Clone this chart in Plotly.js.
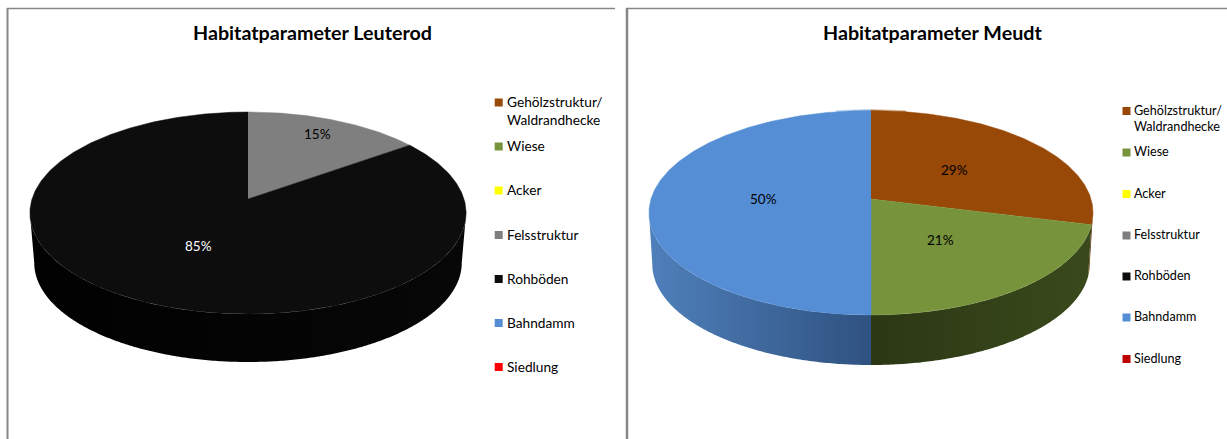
<!DOCTYPE html>
<html>
<head>
<meta charset="utf-8">
<script src="https://cdn.plot.ly/plotly-3.0.1.min.js"></script>
<style>html,body{margin:0;padding:0;background:#fff;overflow:hidden}#chart{width:1227px;height:439px}</style>
</head>
<body>
<div id="chart"></div>
<script>
// ---- data ----
const categories = ["Gehölzstruktur/\nWaldrandhecke", "Wiese", "Acker", "Felsstruktur", "Rohböden", "Bahndamm", "Siedlung"];
const leuterodValues = [0, 0, 0, 15, 85, 0, 0];
const meudtValues = [29, 21, 0, 0, 0, 50, 0];
const leuterodTitle = "Habitatparameter Leuterod";
const meudtTitle = "Habitatparameter Meudt";
const leuterodColors = ["#984807", "#77933C", "#FFFF00", "#7F7F7F", "#0D0D0D", "#558ED5", "#FF0000"];
const meudtColors = ["#984807", "#77933C", "#FFFF00", "#7F7F7F", "#0D0D0D", "#558ED5", "#C00000"];

// ---- layout and style (page pixels, used as axis units) ----
const FONT = "Lato, 'Open Sans', sans-serif";
const leuterodGeom = {cx: 248, apexY: 199, topY: 112, botY: 314, halfW: 216, baseY: 362, shrink: 0.98,
  titleX: 312, legendMarkerX: 498.7, legendTextX: 505, legendFont: 13.7, legendY: [102.5, 146.5, 190.5, 235, 279, 323, 367], lineGap: 18,
  labelPos: {3: [317, 134], 4: [198, 246]}, labelColor: {4: "#ffffff"},
  shade: {4: ["#070707", "#010101"]}};
const meudtGeom = {cx: 871, apexY: 199, topY: 110.5, botY: 315, halfW: 220, baseY: 365, shrink: 0.985,
  titleX: 932, legendMarkerX: 1126.5, legendTextX: 1132, legendFont: 12.6, legendY: [111, 152.5, 194, 235.5, 276.5, 317.5, 359], lineGap: 16,
  labelPos: {0: [954, 170], 1: [940.5, 240], 5: [763, 199]}, labelColor: {},
  shade: {0: ["#6a3205", "#6a3205"], 1: ["#3a4a1c", "#2c3714"], 5: ["#2f5280", "#4f80bb"]},
  rim: true};

function projector(g) {
  // perspective view of a circular disc
  const k = (g.botY + g.topY - 2 * g.apexY) / (g.botY - g.topY);
  const a = g.topY * (1 + k) - g.apexY;
  const midY = (g.apexY - a * k) / (1 - k * k);
  return {
    top: (th, r = 1) => {
      const u = r * Math.sin(th), v = r * Math.cos(th), w = 1 + k * v;
      return [g.cx + g.halfW * u / w, (g.apexY + a * v) / w];
    },
    base: function (th) {
      const p = this.top(th);
      const baseMid = g.baseY - g.shrink * (g.botY - midY);
      return [g.cx + g.shrink * (p[0] - g.cx), baseMid + g.shrink * (p[1] - midY)];
    },
    silhouette: Math.PI - Math.acos(k)
  };
}

function arc(fn, from, to) {
  const n = Math.max(2, Math.ceil(Math.abs(to - from) / 0.01));
  const pts = [];
  for (let i = 0; i <= n; i++) pts.push(fn(from + (to - from) * i / n));
  return pts;
}

function addPie(traces, annotations, values, colors, title, g) {
  const P = projector(g);
  const total = values.reduce((s, v) => s + v, 0);
  const TAU = 2 * Math.PI;
  const sil = P.silhouette;
  // sides first
  let acc = 0;
  values.forEach((v, i) => {
    const a0 = acc / total * TAU; acc += v; const a1 = acc / total * TAU;
    const from = Math.max(a0, sil), to = Math.min(a1, TAU - sil);
    if (v > 0 && to > from) {
      const topPts = arc(t => P.top(t), from, to);
      const basePts = arc(t => P.base(t), to, from);
      const all = topPts.concat(basePts);
      const s = g.shade[i] || [colors[i], colors[i]];
      traces.push({type: "scatter", mode: "none", fill: "toself", hoverinfo: "skip", showlegend: false,
        x: all.map(p => p[0]), y: all.map(p => p[1]),
        fillcolor: s[0],
        fillgradient: {type: "horizontal", colorscale: [[0, s[1]], [1, s[0]]]}});
    }
  });
  // faint rim at the far edge of the disc
  if (g.rim) {
    [[TAU - 0.18, TAU, "#c6d9f1"], [0, 0.18, "#dcc4ae"]].forEach(r => {
      const pts = arc(t => P.top(t, 1.006), r[0], r[1]);
      traces.push({type: "scatter", mode: "lines", hoverinfo: "skip", showlegend: false,
        x: pts.map(p => p[0]), y: pts.map(p => p[1]), line: {color: r[2], width: 2}});
    });
  }
  // top faces
  acc = 0;
  values.forEach((v, i) => {
    const a0 = acc / total * TAU; acc += v; const a1 = acc / total * TAU;
    if (v <= 0) return;
    const pts = [P.top(0, 0)].concat(arc(t => P.top(t), a0, a1));
    traces.push({type: "scatter", mode: "lines", fill: "toself", hoverinfo: "skip", showlegend: false,
      x: pts.map(p => p[0]), y: pts.map(p => p[1]), fillcolor: colors[i], line: {color: colors[i], width: 0.5}});
  });
  // percentage labels
  values.forEach((v, i) => {
    if (v <= 0) return;
    annotations.push({x: g.labelPos[i][0], y: g.labelPos[i][1], xref: "x", yref: "y", showarrow: false,
      text: Math.round(v / total * 100) + "%", font: {family: FONT, size: 13.5, color: g.labelColor[i] || "#000000"}});
  });
  // legend
  traces.push({type: "scatter", mode: "markers", hoverinfo: "skip", showlegend: false,
    x: categories.map(() => g.legendMarkerX), y: g.legendY,
    marker: {symbol: "square", size: 8, color: colors, line: {width: 0}}});
  categories.forEach((c, i) => {
    c.split("\n").forEach((line, j) => {
      annotations.push({x: g.legendTextX, y: g.legendY[i] - 1 + j * g.lineGap, xref: "x", yref: "y", showarrow: false,
        xanchor: "left", yanchor: "middle", text: line, font: {family: FONT, size: g.legendFont, color: "#000000"}});
    });
  });
  // title
  annotations.push({x: g.titleX, y: 32, xref: "x", yref: "y", showarrow: false, text: "<b>" + title + "</b>",
    font: {family: FONT, size: 19.7, color: "#000000"}});
}

const traces = [], annotations = [];
addPie(traces, annotations, leuterodValues, leuterodColors, leuterodTitle, leuterodGeom);
addPie(traces, annotations, meudtValues, meudtColors, meudtTitle, meudtGeom);

const frame = "#868686";
const shapes = [
  {type: "line", xref: "x", yref: "y", x0: 7.5, x1: 7.5, y0: 8, y1: 439, line: {color: frame, width: 2}},
  {type: "line", xref: "x", yref: "y", x0: 7, x1: 615, y0: 8.5, y1: 8.5, line: {color: frame, width: 1.5}},
  {type: "line", xref: "x", yref: "y", x0: 627, x1: 627, y0: 8, y1: 439, line: {color: frame, width: 2.5}},
  {type: "line", xref: "x", yref: "y", x0: 626, x1: 1227, y0: 8.5, y1: 8.5, line: {color: frame, width: 1.5}}
];

Plotly.newPlot("chart", traces, {
  width: 1227, height: 439,
  margin: {l: 0, r: 0, t: 0, b: 0},
  paper_bgcolor: "#ffffff", plot_bgcolor: "#ffffff",
  showlegend: false, hovermode: false,
  xaxis: {range: [0, 1227], visible: false, fixedrange: true},
  yaxis: {range: [439, 0], visible: false, fixedrange: true},
  annotations: annotations, shapes: shapes
}, {displayModeBar: false, staticPlot: true});
</script>
</body>
</html>
